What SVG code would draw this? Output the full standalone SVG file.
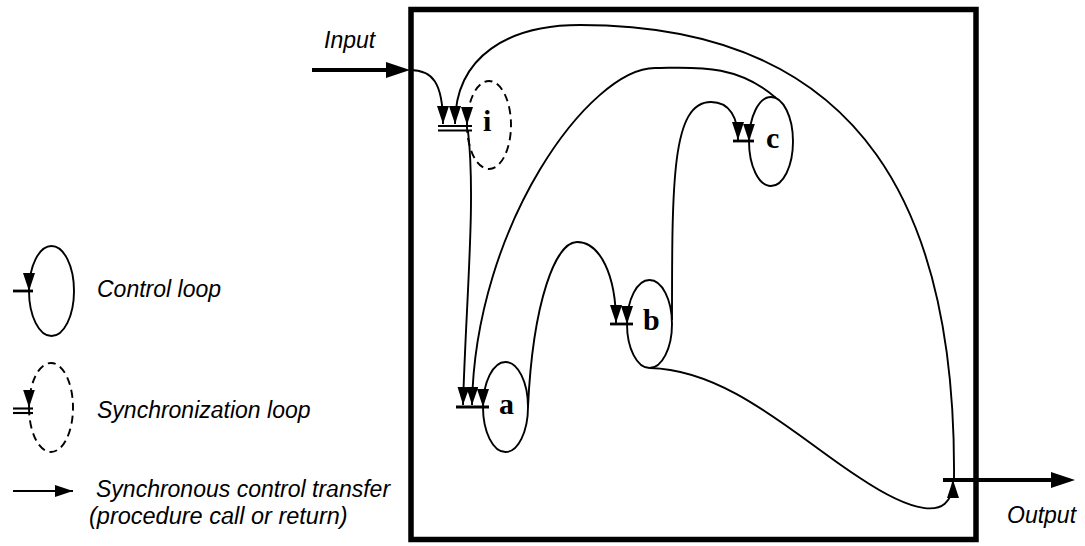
<svg xmlns="http://www.w3.org/2000/svg" width="1085" height="546" viewBox="0 0 1085 546">
  <defs>
    <style>
      .frame{fill:none;stroke:#000;stroke-width:5.5}
      .flow{fill:none;stroke:#000;stroke-width:1.9;marker-end:url(#ah)}
      .loop{fill:none;stroke:#000;stroke-width:1.9;marker-end:url(#ah)}
      .sync{stroke-dasharray:8 5}
      .bar{stroke:#000;stroke-width:2.8;fill:none}
      .bar2{stroke:#000;stroke-width:2.1;fill:none}
      .io{stroke:#000;stroke-width:4;fill:none}
      .lbl{font-family:"Liberation Serif","DejaVu Serif",serif;font-weight:bold;font-size:30px}
      .cap{font-family:"Liberation Sans",Arial,sans-serif;font-style:italic;font-size:23px}
    </style>
    <marker id="ah" viewBox="0 0 18 12" refX="18" refY="6" markerWidth="18" markerHeight="12" markerUnits="userSpaceOnUse" orient="auto">
      <path d="M0,0 L18,6 L0,12 z" fill="#000"/>
    </marker>
  </defs>
  <rect width="1085" height="546" fill="#fff"/>

  <!-- enclosing process box -->
  <rect class="frame" x="411" y="9.5" width="565" height="530"/>

  <!-- input and output -->
  <g id="input">
    <line class="io" x1="312" y1="70" x2="388" y2="70"/>
    <polygon points="386,62 410,70 386,78"/>
    <text class="cap" x="324" y="48">Input</text>
  </g>
  <g id="output">
    <line class="io" x1="943" y1="480" x2="1052" y2="480"/>
    <polygon points="1051,472 1075,480 1051,488"/>
    <text class="cap" x="1007" y="523">Output</text>
  </g>

  <!-- control transfers -->
  <g id="connectors">
    <path class="flow" d="M410,70 C432,70 443,82 443,124"/>
    <path class="flow" d="M954,478 C956,220 870,25 580,25 C510,25 455,55 455,124"/>
    <path class="flow" d="M468,131 C476,200 466,300 463,405"/>
    <path class="flow" d="M776,98 C735,62 690,68 655,68 C590,68 475,225 472,405"/>
    <path class="flow" d="M528,407 C533,300 556,242 577,242 C600,242 616,275 616,323"/>
    <path class="flow" d="M672,320 C672,180 672,102 711,102 C730,102 738,118 738,140"/>
    <path class="flow" d="M650,368 C730,370 800,440 860,478 C905,508 953,527 953,480"/>
  </g>

  <!-- loops -->
  <g id="node-i">
    <path class="loop sync" d="M467,125 A22,44 0 0 0 489,169 A22,44 0 0 0 511,125 A22,44 0 0 0 489,81 A22,44 0 0 0 467,125"/>
    <line class="bar2" x1="438" y1="126" x2="472" y2="126"/>
    <line class="bar2" x1="438" y1="130.5" x2="472" y2="130.5"/>
    <text class="lbl" x="483" y="131">i</text>
  </g>
  <g id="node-a">
    <path class="loop" d="M483,407 A22.5,45 0 0 0 505.5,452 A22.5,45 0 0 0 528,407 A22.5,45 0 0 0 505.5,362 A22.5,45 0 0 0 483,407"/>
    <line class="bar" x1="456" y1="407" x2="489" y2="407"/>
    <text class="lbl" x="499" y="414">a</text>
  </g>
  <g id="node-b">
    <path class="loop" d="M627,324 A22.5,44 0 0 0 649.5,368 A22.5,44 0 0 0 672,324 A22.5,44 0 0 0 649.5,280 A22.5,44 0 0 0 627,324"/>
    <line class="bar" x1="610" y1="324" x2="633" y2="324"/>
    <text class="lbl" x="643" y="330">b</text>
  </g>
  <g id="node-c">
    <path class="loop" d="M749,141.5 A22,44.5 0 0 0 771,186 A22,44.5 0 0 0 793,141.5 A22,44.5 0 0 0 771,97 A22,44.5 0 0 0 749,141.5"/>
    <line class="bar" x1="733" y1="141" x2="754" y2="141"/>
    <text class="lbl" x="766" y="148">c</text>
  </g>

  <!-- legend -->
  <g id="legend-control">
    <path class="loop" d="M29,291 A22.5,45 0 0 0 51.5,336 A22.5,45 0 0 0 74,291 A22.5,45 0 0 0 51.5,246 A22.5,45 0 0 0 29,291"/>
    <line class="bar" x1="13" y1="291" x2="33" y2="291"/>
    <text class="cap" x="97" y="297">Control loop</text>
  </g>
  <g id="legend-sync">
    <path class="loop sync" d="M29,407.5 A22,44.5 0 0 0 51,452 A22,44.5 0 0 0 73,407.5 A22,44.5 0 0 0 51,363 A22,44.5 0 0 0 29,407.5"/>
    <line class="bar2" x1="13" y1="408.5" x2="33" y2="408.5"/>
    <line class="bar2" x1="13" y1="413" x2="33" y2="413"/>
    <text class="cap" x="97" y="418">Synchronization loop</text>
  </g>
  <g id="legend-transfer">
    <path class="flow" d="M13,491 L73,491"/>
    <text class="cap" x="96" y="497">Synchronous control transfer</text>
    <text class="cap" x="89" y="524" style="font-size:23.5px">(procedure call or return)</text>
  </g>
</svg>
